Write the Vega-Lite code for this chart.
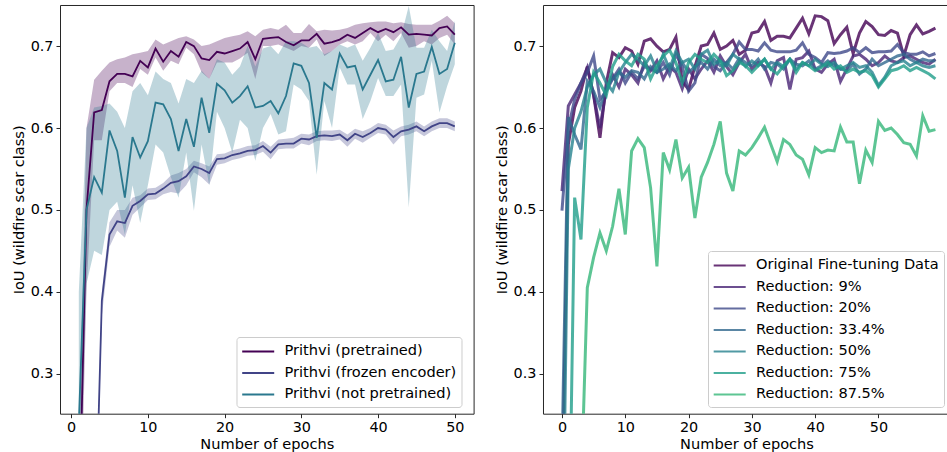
{
"$schema": "https://vega.github.io/schema/vega-lite/v6.json",
"padding": {"left": 10, "top": 4, "right": 0, "bottom": 0},
"spacing": 69,
"bounds": "flush",
"config": {
  "font": "DejaVu Sans",
  "view": {"stroke": "#262626", "strokeWidth": 1},
  "axis": {"grid": false, "domain": false, "labelFont": "DejaVu Sans", "titleFont": "DejaVu Sans", "labelFontSize": 14.4, "titleFontSize": 14.6, "titleFontWeight": "normal", "labelColor": "#000", "titleColor": "#000", "tickColor": "#262626", "tickSize": 4, "labelPadding": 3},
  "axisY": {"titlePadding": 4},
  "axisX": {"titlePadding": 2},
  "legend": {"labelFont": "DejaVu Sans", "labelFontSize": 14.6, "labelColor": "#000", "labelLimit": 400, "fillColor": "rgba(255,255,255,0.8)", "strokeColor": "#cccccc", "cornerRadius": 3, "padding": 5, "symbolType": "M-1.1,0H2.9", "symbolSize": 256, "symbolStrokeWidth": 2.2, "labelOffset": 24, "rowPadding": 4.5}
},
"resolve": {"scale": {"x": "independent", "y": "independent", "stroke": "independent"}, "legend": {"stroke": "independent"}},
"hconcat": [
{
  "width": 413.6,
  "height": 408.7,
  "data": {"values": [
{"m":"Prithvi (pretrained)","e":1,"v":0.10,"lo":0.02,"hi":0.20},
{"m":"Prithvi (pretrained)","e":2,"v":0.50,"lo":0.40,"hi":0.60},
{"m":"Prithvi (pretrained)","e":3,"v":0.619,"lo":0.585,"hi":0.659},
{"m":"Prithvi (pretrained)","e":4,"v":0.622,"lo":0.585,"hi":0.670},
{"m":"Prithvi (pretrained)","e":5,"v":0.657,"lo":0.645,"hi":0.680},
{"m":"Prithvi (pretrained)","e":6,"v":0.666,"lo":0.655,"hi":0.684},
{"m":"Prithvi (pretrained)","e":7,"v":0.666,"lo":0.655,"hi":0.686},
{"m":"Prithvi (pretrained)","e":8,"v":0.663,"lo":0.650,"hi":0.690},
{"m":"Prithvi (pretrained)","e":9,"v":0.682,"lo":0.672,"hi":0.692},
{"m":"Prithvi (pretrained)","e":10,"v":0.674,"lo":0.665,"hi":0.694},
{"m":"Prithvi (pretrained)","e":11,"v":0.697,"lo":0.686,"hi":0.708},
{"m":"Prithvi (pretrained)","e":12,"v":0.681,"lo":0.670,"hi":0.702},
{"m":"Prithvi (pretrained)","e":13,"v":0.694,"lo":0.682,"hi":0.706},
{"m":"Prithvi (pretrained)","e":14,"v":0.687,"lo":0.678,"hi":0.710},
{"m":"Prithvi (pretrained)","e":15,"v":0.705,"lo":0.698,"hi":0.712},
{"m":"Prithvi (pretrained)","e":16,"v":0.700,"lo":0.690,"hi":0.708},
{"m":"Prithvi (pretrained)","e":17,"v":0.685,"lo":0.668,"hi":0.700},
{"m":"Prithvi (pretrained)","e":18,"v":0.683,"lo":0.660,"hi":0.702},
{"m":"Prithvi (pretrained)","e":19,"v":0.693,"lo":0.680,"hi":0.706},
{"m":"Prithvi (pretrained)","e":20,"v":0.691,"lo":0.680,"hi":0.710},
{"m":"Prithvi (pretrained)","e":21,"v":0.694,"lo":0.680,"hi":0.712},
{"m":"Prithvi (pretrained)","e":22,"v":0.697,"lo":0.685,"hi":0.714},
{"m":"Prithvi (pretrained)","e":23,"v":0.705,"lo":0.692,"hi":0.718},
{"m":"Prithvi (pretrained)","e":24,"v":0.684,"lo":0.660,"hi":0.712},
{"m":"Prithvi (pretrained)","e":25,"v":0.709,"lo":0.700,"hi":0.720},
{"m":"Prithvi (pretrained)","e":26,"v":0.710,"lo":0.700,"hi":0.722},
{"m":"Prithvi (pretrained)","e":27,"v":0.711,"lo":0.702,"hi":0.720},
{"m":"Prithvi (pretrained)","e":28,"v":0.705,"lo":0.698,"hi":0.726},
{"m":"Prithvi (pretrained)","e":29,"v":0.701,"lo":0.694,"hi":0.716},
{"m":"Prithvi (pretrained)","e":30,"v":0.707,"lo":0.700,"hi":0.716},
{"m":"Prithvi (pretrained)","e":31,"v":0.707,"lo":0.698,"hi":0.727},
{"m":"Prithvi (pretrained)","e":32,"v":0.715,"lo":0.708,"hi":0.718},
{"m":"Prithvi (pretrained)","e":33,"v":0.703,"lo":0.688,"hi":0.720},
{"m":"Prithvi (pretrained)","e":34,"v":0.705,"lo":0.694,"hi":0.719},
{"m":"Prithvi (pretrained)","e":35,"v":0.708,"lo":0.702,"hi":0.720},
{"m":"Prithvi (pretrained)","e":36,"v":0.714,"lo":0.706,"hi":0.722},
{"m":"Prithvi (pretrained)","e":37,"v":0.710,"lo":0.702,"hi":0.726},
{"m":"Prithvi (pretrained)","e":38,"v":0.716,"lo":0.706,"hi":0.728},
{"m":"Prithvi (pretrained)","e":39,"v":0.722,"lo":0.716,"hi":0.729},
{"m":"Prithvi (pretrained)","e":40,"v":0.717,"lo":0.706,"hi":0.730},
{"m":"Prithvi (pretrained)","e":41,"v":0.721,"lo":0.714,"hi":0.730},
{"m":"Prithvi (pretrained)","e":42,"v":0.717,"lo":0.706,"hi":0.728},
{"m":"Prithvi (pretrained)","e":43,"v":0.723,"lo":0.716,"hi":0.729},
{"m":"Prithvi (pretrained)","e":44,"v":0.714,"lo":0.698,"hi":0.727},
{"m":"Prithvi (pretrained)","e":45,"v":0.715,"lo":0.700,"hi":0.726},
{"m":"Prithvi (pretrained)","e":46,"v":0.714,"lo":0.706,"hi":0.726},
{"m":"Prithvi (pretrained)","e":47,"v":0.713,"lo":0.702,"hi":0.726},
{"m":"Prithvi (pretrained)","e":48,"v":0.722,"lo":0.710,"hi":0.731},
{"m":"Prithvi (pretrained)","e":49,"v":0.724,"lo":0.714,"hi":0.737},
{"m":"Prithvi (pretrained)","e":50,"v":0.714,"lo":0.702,"hi":0.728},
{"m":"Prithvi (frozen encoder)","e":1,"v":0.02,"lo":0.0,"hi":0.04},
{"m":"Prithvi (frozen encoder)","e":2,"v":0.03,"lo":0.01,"hi":0.05},
{"m":"Prithvi (frozen encoder)","e":3,"v":0.05,"lo":0.03,"hi":0.07},
{"m":"Prithvi (frozen encoder)","e":4,"v":0.389,"lo":0.37,"hi":0.40},
{"m":"Prithvi (frozen encoder)","e":5,"v":0.470,"lo":0.455,"hi":0.485},
{"m":"Prithvi (frozen encoder)","e":6,"v":0.486,"lo":0.475,"hi":0.500},
{"m":"Prithvi (frozen encoder)","e":7,"v":0.484,"lo":0.466,"hi":0.500},
{"m":"Prithvi (frozen encoder)","e":8,"v":0.505,"lo":0.494,"hi":0.515},
{"m":"Prithvi (frozen encoder)","e":9,"v":0.511,"lo":0.503,"hi":0.518},
{"m":"Prithvi (frozen encoder)","e":10,"v":0.519,"lo":0.512,"hi":0.526},
{"m":"Prithvi (frozen encoder)","e":11,"v":0.520,"lo":0.513,"hi":0.527},
{"m":"Prithvi (frozen encoder)","e":12,"v":0.526,"lo":0.519,"hi":0.533},
{"m":"Prithvi (frozen encoder)","e":13,"v":0.533,"lo":0.522,"hi":0.542},
{"m":"Prithvi (frozen encoder)","e":14,"v":0.535,"lo":0.520,"hi":0.545},
{"m":"Prithvi (frozen encoder)","e":15,"v":0.541,"lo":0.530,"hi":0.550},
{"m":"Prithvi (frozen encoder)","e":16,"v":0.553,"lo":0.546,"hi":0.560},
{"m":"Prithvi (frozen encoder)","e":17,"v":0.550,"lo":0.540,"hi":0.557},
{"m":"Prithvi (frozen encoder)","e":18,"v":0.545,"lo":0.531,"hi":0.553},
{"m":"Prithvi (frozen encoder)","e":19,"v":0.562,"lo":0.555,"hi":0.568},
{"m":"Prithvi (frozen encoder)","e":20,"v":0.563,"lo":0.557,"hi":0.569},
{"m":"Prithvi (frozen encoder)","e":21,"v":0.567,"lo":0.561,"hi":0.573},
{"m":"Prithvi (frozen encoder)","e":22,"v":0.569,"lo":0.563,"hi":0.575},
{"m":"Prithvi (frozen encoder)","e":23,"v":0.572,"lo":0.566,"hi":0.578},
{"m":"Prithvi (frozen encoder)","e":24,"v":0.573,"lo":0.567,"hi":0.579},
{"m":"Prithvi (frozen encoder)","e":25,"v":0.578,"lo":0.571,"hi":0.584},
{"m":"Prithvi (frozen encoder)","e":26,"v":0.570,"lo":0.562,"hi":0.577},
{"m":"Prithvi (frozen encoder)","e":27,"v":0.580,"lo":0.574,"hi":0.586},
{"m":"Prithvi (frozen encoder)","e":28,"v":0.581,"lo":0.575,"hi":0.587},
{"m":"Prithvi (frozen encoder)","e":29,"v":0.581,"lo":0.575,"hi":0.588},
{"m":"Prithvi (frozen encoder)","e":30,"v":0.587,"lo":0.581,"hi":0.593},
{"m":"Prithvi (frozen encoder)","e":31,"v":0.586,"lo":0.579,"hi":0.592},
{"m":"Prithvi (frozen encoder)","e":32,"v":0.590,"lo":0.584,"hi":0.596},
{"m":"Prithvi (frozen encoder)","e":33,"v":0.591,"lo":0.585,"hi":0.597},
{"m":"Prithvi (frozen encoder)","e":34,"v":0.590,"lo":0.584,"hi":0.597},
{"m":"Prithvi (frozen encoder)","e":35,"v":0.592,"lo":0.586,"hi":0.598},
{"m":"Prithvi (frozen encoder)","e":36,"v":0.585,"lo":0.577,"hi":0.592},
{"m":"Prithvi (frozen encoder)","e":37,"v":0.593,"lo":0.587,"hi":0.599},
{"m":"Prithvi (frozen encoder)","e":38,"v":0.589,"lo":0.582,"hi":0.596},
{"m":"Prithvi (frozen encoder)","e":39,"v":0.594,"lo":0.588,"hi":0.600},
{"m":"Prithvi (frozen encoder)","e":40,"v":0.600,"lo":0.594,"hi":0.606},
{"m":"Prithvi (frozen encoder)","e":41,"v":0.598,"lo":0.592,"hi":0.604},
{"m":"Prithvi (frozen encoder)","e":42,"v":0.589,"lo":0.580,"hi":0.597},
{"m":"Prithvi (frozen encoder)","e":43,"v":0.596,"lo":0.590,"hi":0.602},
{"m":"Prithvi (frozen encoder)","e":44,"v":0.598,"lo":0.592,"hi":0.604},
{"m":"Prithvi (frozen encoder)","e":45,"v":0.602,"lo":0.596,"hi":0.608},
{"m":"Prithvi (frozen encoder)","e":46,"v":0.596,"lo":0.590,"hi":0.602},
{"m":"Prithvi (frozen encoder)","e":47,"v":0.602,"lo":0.596,"hi":0.608},
{"m":"Prithvi (frozen encoder)","e":48,"v":0.606,"lo":0.600,"hi":0.612},
{"m":"Prithvi (frozen encoder)","e":49,"v":0.606,"lo":0.600,"hi":0.612},
{"m":"Prithvi (frozen encoder)","e":50,"v":0.602,"lo":0.596,"hi":0.608},
{"m":"Prithvi (not pretrained)","e":1,"v":0.24,"lo":0.10,"hi":0.40},
{"m":"Prithvi (not pretrained)","e":2,"v":0.50,"lo":0.41,"hi":0.60},
{"m":"Prithvi (not pretrained)","e":3,"v":0.540,"lo":0.45,"hi":0.625},
{"m":"Prithvi (not pretrained)","e":4,"v":0.521,"lo":0.445,"hi":0.627},
{"m":"Prithvi (not pretrained)","e":5,"v":0.597,"lo":0.50,"hi":0.630},
{"m":"Prithvi (not pretrained)","e":6,"v":0.572,"lo":0.51,"hi":0.620},
{"m":"Prithvi (not pretrained)","e":7,"v":0.515,"lo":0.47,"hi":0.600},
{"m":"Prithvi (not pretrained)","e":8,"v":0.589,"lo":0.53,"hi":0.645},
{"m":"Prithvi (not pretrained)","e":9,"v":0.564,"lo":0.484,"hi":0.655},
{"m":"Prithvi (not pretrained)","e":10,"v":0.584,"lo":0.53,"hi":0.640},
{"m":"Prithvi (not pretrained)","e":11,"v":0.631,"lo":0.58,"hi":0.669},
{"m":"Prithvi (not pretrained)","e":12,"v":0.629,"lo":0.57,"hi":0.660},
{"m":"Prithvi (not pretrained)","e":13,"v":0.611,"lo":0.54,"hi":0.655},
{"m":"Prithvi (not pretrained)","e":14,"v":0.572,"lo":0.515,"hi":0.630},
{"m":"Prithvi (not pretrained)","e":15,"v":0.611,"lo":0.57,"hi":0.660},
{"m":"Prithvi (not pretrained)","e":16,"v":0.577,"lo":0.499,"hi":0.655},
{"m":"Prithvi (not pretrained)","e":17,"v":0.637,"lo":0.58,"hi":0.670},
{"m":"Prithvi (not pretrained)","e":18,"v":0.594,"lo":0.53,"hi":0.660},
{"m":"Prithvi (not pretrained)","e":19,"v":0.654,"lo":0.62,"hi":0.684},
{"m":"Prithvi (not pretrained)","e":20,"v":0.646,"lo":0.60,"hi":0.680},
{"m":"Prithvi (not pretrained)","e":21,"v":0.631,"lo":0.57,"hi":0.665},
{"m":"Prithvi (not pretrained)","e":22,"v":0.639,"lo":0.61,"hi":0.675},
{"m":"Prithvi (not pretrained)","e":23,"v":0.651,"lo":0.60,"hi":0.700},
{"m":"Prithvi (not pretrained)","e":24,"v":0.625,"lo":0.56,"hi":0.675},
{"m":"Prithvi (not pretrained)","e":25,"v":0.627,"lo":0.60,"hi":0.697},
{"m":"Prithvi (not pretrained)","e":26,"v":0.633,"lo":0.617,"hi":0.700},
{"m":"Prithvi (not pretrained)","e":27,"v":0.618,"lo":0.592,"hi":0.690},
{"m":"Prithvi (not pretrained)","e":28,"v":0.639,"lo":0.596,"hi":0.706},
{"m":"Prithvi (not pretrained)","e":29,"v":0.679,"lo":0.653,"hi":0.706},
{"m":"Prithvi (not pretrained)","e":30,"v":0.676,"lo":0.647,"hi":0.704},
{"m":"Prithvi (not pretrained)","e":31,"v":0.655,"lo":0.633,"hi":0.698},
{"m":"Prithvi (not pretrained)","e":32,"v":0.588,"lo":0.543,"hi":0.700},
{"m":"Prithvi (not pretrained)","e":33,"v":0.655,"lo":0.633,"hi":0.690},
{"m":"Prithvi (not pretrained)","e":34,"v":0.647,"lo":0.600,"hi":0.694},
{"m":"Prithvi (not pretrained)","e":35,"v":0.691,"lo":0.674,"hi":0.702},
{"m":"Prithvi (not pretrained)","e":36,"v":0.674,"lo":0.653,"hi":0.698},
{"m":"Prithvi (not pretrained)","e":37,"v":0.676,"lo":0.653,"hi":0.702},
{"m":"Prithvi (not pretrained)","e":38,"v":0.647,"lo":0.611,"hi":0.682},
{"m":"Prithvi (not pretrained)","e":39,"v":0.665,"lo":0.633,"hi":0.698},
{"m":"Prithvi (not pretrained)","e":40,"v":0.683,"lo":0.661,"hi":0.716},
{"m":"Prithvi (not pretrained)","e":41,"v":0.657,"lo":0.639,"hi":0.694},
{"m":"Prithvi (not pretrained)","e":42,"v":0.659,"lo":0.639,"hi":0.696},
{"m":"Prithvi (not pretrained)","e":43,"v":0.687,"lo":0.653,"hi":0.712},
{"m":"Prithvi (not pretrained)","e":44,"v":0.625,"lo":0.503,"hi":0.749},
{"m":"Prithvi (not pretrained)","e":45,"v":0.666,"lo":0.637,"hi":0.698},
{"m":"Prithvi (not pretrained)","e":46,"v":0.669,"lo":0.641,"hi":0.698},
{"m":"Prithvi (not pretrained)","e":47,"v":0.699,"lo":0.682,"hi":0.720},
{"m":"Prithvi (not pretrained)","e":48,"v":0.666,"lo":0.619,"hi":0.706},
{"m":"Prithvi (not pretrained)","e":49,"v":0.672,"lo":0.651,"hi":0.694},
{"m":"Prithvi (not pretrained)","e":50,"v":0.704,"lo":0.678,"hi":0.731}
  ]},
  "encoding": {
    "x": {"field": "e", "type": "quantitative", "scale": {"domain": [-1.45, 52.45], "nice": false, "zero": false}, "axis": {"values": [0,10,20,30,40,50], "title": "Number of epochs"}}
  },
  "layer": [
    {
      "transform": [{"filter": "datum.m == 'Prithvi (pretrained)'"}],
      "mark": {"type": "area", "color": "#440154", "fillOpacity": 0.3, "clip": true},
      "encoding": {
        "y": {"field": "lo", "type": "quantitative", "scale": {"domain": [0.2512, 0.7502], "nice": false, "zero": false}, "axis": {"values": [0.3,0.4,0.5,0.6,0.7], "format": ".1f", "title": "IoU (wildfire scar class)"}},
        "y2": {"field": "hi"}
      }
    },
    {
      "transform": [{"filter": "datum.m == 'Prithvi (frozen encoder)'"}],
      "mark": {"type": "area", "color": "#414487", "fillOpacity": 0.3, "clip": true},
      "encoding": {
        "y": {"field": "lo", "type": "quantitative", "axis": {"values": [0.3,0.4,0.5,0.6,0.7], "format": ".1f", "title": "IoU (wildfire scar class)"}},
        "y2": {"field": "hi"}
      }
    },
    {
      "transform": [{"filter": "datum.m == 'Prithvi (not pretrained)'"}],
      "mark": {"type": "area", "color": "#2a788e", "fillOpacity": 0.3, "clip": true},
      "encoding": {
        "y": {"field": "lo", "type": "quantitative", "axis": {"values": [0.3,0.4,0.5,0.6,0.7], "format": ".1f", "title": "IoU (wildfire scar class)"}},
        "y2": {"field": "hi"}
      }
    },
    {
      "mark": {"type": "line", "strokeWidth": 1.8, "clip": true},
      "encoding": {
        "y": {"field": "v", "type": "quantitative", "axis": {"values": [0.3,0.4,0.5,0.6,0.7], "format": ".1f", "title": "IoU (wildfire scar class)"}},
        "stroke": {"field": "m", "type": "nominal", "scale": {"domain": ["Prithvi (pretrained)", "Prithvi (frozen encoder)", "Prithvi (not pretrained)"], "range": ["#440154", "#414487", "#2a788e"]}, "legend": {"orient": "none", "legendX": 176.5, "legendY": 332, "title": null}}
      }
    }
  ]
},
{
  "width": 407,
  "height": 408.7,
  "view": {"stroke": null},
  "data": {"values": [
{"e":0,"O":0.13,"R9":0.523,"R20":0.499,"R33":0.20,"R50":0.0,"R75":0.0,"R87":0.02},
{"e":1,"O":0.58,"R9":0.627,"R20":0.600,"R33":0.613,"R50":0.55,"R75":0.02,"R87":0.05},
{"e":2,"O":0.625,"R9":0.641,"R20":0.635,"R33":0.592,"R50":0.60,"R75":0.515,"R87":0.10},
{"e":3,"O":0.645,"R9":0.655,"R20":0.655,"R33":0.574,"R50":0.62,"R75":0.464,"R87":0.15},
{"e":4,"O":0.675,"R9":0.674,"R20":0.668,"R33":0.657,"R50":0.65,"R75":0.625,"R87":0.405},
{"e":5,"O":0.640,"R9":0.640,"R20":0.688,"R33":0.645,"R50":0.665,"R75":0.668,"R87":0.442},
{"e":6,"O":0.588,"R9":0.600,"R20":0.635,"R33":0.625,"R50":0.672,"R75":0.655,"R87":0.472},
{"e":7,"O":0.655,"R9":0.648,"R20":0.645,"R33":0.650,"R50":0.655,"R75":0.640,"R87":0.450},
{"e":8,"O":0.692,"R9":0.665,"R20":0.660,"R33":0.660,"R50":0.645,"R75":0.675,"R87":0.480},
{"e":9,"O":0.686,"R9":0.650,"R20":0.672,"R33":0.668,"R50":0.668,"R75":0.690,"R87":0.526},
{"e":10,"O":0.698,"R9":0.672,"R20":0.655,"R33":0.662,"R50":0.680,"R75":0.682,"R87":0.470},
{"e":11,"O":0.694,"R9":0.665,"R20":0.668,"R33":0.670,"R50":0.690,"R75":0.676,"R87":0.572},
{"e":12,"O":0.678,"R9":0.655,"R20":0.660,"R33":0.668,"R50":0.684,"R75":0.690,"R87":0.587},
{"e":13,"O":0.706,"R9":0.680,"R20":0.675,"R33":0.660,"R50":0.676,"R75":0.684,"R87":0.576},
{"e":14,"O":0.709,"R9":0.670,"R20":0.672,"R33":0.675,"R50":0.688,"R75":0.660,"R87":0.527},
{"e":15,"O":0.700,"R9":0.682,"R20":0.668,"R33":0.668,"R50":0.670,"R75":0.676,"R87":0.431},
{"e":16,"O":0.693,"R9":0.660,"R20":0.680,"R33":0.672,"R50":0.690,"R75":0.688,"R87":0.570},
{"e":17,"O":0.696,"R9":0.675,"R20":0.665,"R33":0.678,"R50":0.672,"R75":0.695,"R87":0.549},
{"e":18,"O":0.711,"R9":0.668,"R20":0.690,"R33":0.670,"R50":0.694,"R75":0.680,"R87":0.586},
{"e":19,"O":0.657,"R9":0.648,"R20":0.675,"R33":0.680,"R50":0.680,"R75":0.655,"R87":0.539},
{"e":20,"O":0.647,"R9":0.672,"R20":0.645,"R33":0.668,"R50":0.684,"R75":0.680,"R87":0.552},
{"e":21,"O":0.675,"R9":0.660,"R20":0.655,"R33":0.675,"R50":0.672,"R75":0.690,"R87":0.490},
{"e":22,"O":0.700,"R9":0.672,"R20":0.690,"R33":0.680,"R50":0.690,"R75":0.684,"R87":0.540},
{"e":23,"O":0.702,"R9":0.682,"R20":0.685,"R33":0.672,"R50":0.695,"R75":0.680,"R87":0.558},
{"e":24,"O":0.716,"R9":0.668,"R20":0.675,"R33":0.684,"R50":0.678,"R75":0.690,"R87":0.580},
{"e":25,"O":0.696,"R9":0.688,"R20":0.670,"R33":0.676,"R50":0.682,"R75":0.682,"R87":0.608},
{"e":26,"O":0.700,"R9":0.675,"R20":0.680,"R33":0.680,"R50":0.676,"R75":0.664,"R87":0.545},
{"e":27,"O":0.707,"R9":0.665,"R20":0.690,"R33":0.672,"R50":0.690,"R75":0.670,"R87":0.523},
{"e":28,"O":0.690,"R9":0.680,"R20":0.705,"R33":0.685,"R50":0.684,"R75":0.680,"R87":0.572},
{"e":29,"O":0.695,"R9":0.690,"R20":0.696,"R33":0.680,"R50":0.675,"R75":0.676,"R87":0.567},
{"e":30,"O":0.716,"R9":0.672,"R20":0.696,"R33":0.676,"R50":0.682,"R75":0.668,"R87":0.576},
{"e":31,"O":0.718,"R9":0.680,"R20":0.694,"R33":0.684,"R50":0.676,"R75":0.676,"R87":0.588},
{"e":32,"O":0.730,"R9":0.675,"R20":0.704,"R33":0.672,"R50":0.684,"R75":0.684,"R87":0.601},
{"e":33,"O":0.707,"R9":0.655,"R20":0.695,"R33":0.680,"R50":0.672,"R75":0.672,"R87":0.580},
{"e":34,"O":0.712,"R9":0.682,"R20":0.693,"R33":0.678,"R50":0.680,"R75":0.666,"R87":0.559},
{"e":35,"O":0.712,"R9":0.686,"R20":0.693,"R33":0.672,"R50":0.675,"R75":0.676,"R87":0.586},
{"e":36,"O":0.710,"R9":0.647,"R20":0.693,"R33":0.684,"R50":0.684,"R75":0.684,"R87":0.580},
{"e":37,"O":0.722,"R9":0.684,"R20":0.695,"R33":0.678,"R50":0.672,"R75":0.668,"R87":0.567},
{"e":38,"O":0.734,"R9":0.686,"R20":0.704,"R33":0.676,"R50":0.680,"R75":0.680,"R87":0.562},
{"e":39,"O":0.715,"R9":0.694,"R20":0.690,"R33":0.682,"R50":0.676,"R75":0.676,"R87":0.543},
{"e":40,"O":0.737,"R9":0.672,"R20":0.686,"R33":0.672,"R50":0.684,"R75":0.670,"R87":0.576},
{"e":41,"O":0.736,"R9":0.668,"R20":0.680,"R33":0.676,"R50":0.678,"R75":0.674,"R87":0.570},
{"e":42,"O":0.731,"R9":0.678,"R20":0.692,"R33":0.682,"R50":0.675,"R75":0.680,"R87":0.573},
{"e":43,"O":0.703,"R9":0.684,"R20":0.691,"R33":0.676,"R50":0.680,"R75":0.672,"R87":0.572},
{"e":44,"O":0.714,"R9":0.657,"R20":0.692,"R33":0.672,"R50":0.672,"R75":0.676,"R87":0.601},
{"e":45,"O":0.723,"R9":0.672,"R20":0.694,"R33":0.670,"R50":0.676,"R75":0.668,"R87":0.583},
{"e":46,"O":0.691,"R9":0.688,"R20":0.698,"R33":0.678,"R50":0.680,"R75":0.672,"R87":0.583},
{"e":47,"O":0.716,"R9":0.690,"R20":0.692,"R33":0.666,"R50":0.674,"R75":0.668,"R87":0.532},
{"e":48,"O":0.730,"R9":0.684,"R20":0.698,"R33":0.672,"R50":0.676,"R75":0.670,"R87":0.573},
{"e":49,"O":0.724,"R9":0.676,"R20":0.692,"R33":0.684,"R50":0.668,"R75":0.664,"R87":0.558},
{"e":50,"O":0.714,"R9":0.680,"R20":0.693,"R33":0.676,"R50":0.652,"R75":0.650,"R87":0.608},
{"e":51,"O":0.713,"R9":0.688,"R20":0.693,"R33":0.680,"R50":0.662,"R75":0.660,"R87":0.597},
{"e":52,"O":0.719,"R9":0.682,"R20":0.694,"R33":0.684,"R50":0.676,"R75":0.670,"R87":0.600},
{"e":53,"O":0.716,"R9":0.680,"R20":0.702,"R33":0.688,"R50":0.680,"R75":0.672,"R87":0.592},
{"e":54,"O":0.688,"R9":0.686,"R20":0.692,"R33":0.690,"R50":0.682,"R75":0.676,"R87":0.582},
{"e":55,"O":0.714,"R9":0.688,"R20":0.690,"R33":0.684,"R50":0.676,"R75":0.670,"R87":0.580},
{"e":56,"O":0.726,"R9":0.684,"R20":0.690,"R33":0.680,"R50":0.680,"R75":0.674,"R87":0.566},
{"e":57,"O":0.715,"R9":0.680,"R20":0.693,"R33":0.684,"R50":0.676,"R75":0.670,"R87":0.615},
{"e":58,"O":0.718,"R9":0.678,"R20":0.688,"R33":0.682,"R50":0.674,"R75":0.666,"R87":0.596},
{"e":59,"O":0.722,"R9":0.684,"R20":0.691,"R33":0.682,"R50":0.676,"R75":0.660,"R87":0.598}
  ]},
  "transform": [{"fold": ["O","R9","R20","R33","R50","R75","R87"], "as": ["s","v"]}],
  "layer": [
    {
      "mark": {"type": "line", "strokeWidth": 3, "opacity": 0.8, "clip": true},
      "encoding": {
        "x": {"field": "e", "type": "quantitative", "scale": {"domain": [-3, 61.3], "nice": false, "zero": false}, "axis": {"values": [0,10,20,30,40,50], "title": "Number of epochs", "domain": true, "domainColor": "#262626"}},
        "y": {"field": "v", "type": "quantitative", "scale": {"domain": [0.2512, 0.7502], "nice": false, "zero": false}, "axis": {"values": [0.3,0.4,0.5,0.6,0.7], "format": ".1f", "title": "IoU (wildfire scar class)", "domain": true, "domainColor": "#262626"}},
        "stroke": {"field": "s", "type": "nominal", "scale": {"domain": ["O","R9","R20","R33","R50","R75","R87"], "range": ["#440154","#482475","#3e4989","#31688e","#26828e","#1f9e89","#35b779"]}, "legend": {"orient": "none", "legendX": 165, "legendY": 246, "title": null, "labelExpr": "datum.label == 'O' ? 'Original Fine-tuning Data' : datum.label == 'R9' ? 'Reduction: 9%' : datum.label == 'R20' ? 'Reduction: 20%' : datum.label == 'R33' ? 'Reduction: 33.4%' : datum.label == 'R50' ? 'Reduction: 50%' : datum.label == 'R75' ? 'Reduction: 75%' : 'Reduction: 87.5%'"}}
      }
    },
    {
      "mark": {"type": "line", "opacity": 0},
      "encoding": {
        "x": {"field": "e", "type": "quantitative", "axis": {"orient": "top", "labels": false, "ticks": false, "domain": true, "domainColor": "#262626", "title": null}},
        "y": {"field": "v", "type": "quantitative", "axis": {"values": [0.3,0.4,0.5,0.6,0.7], "format": ".1f", "title": "IoU (wildfire scar class)", "domain": true, "domainColor": "#262626"}}
      }
    }
  ],
  "resolve": {"axis": {"x": "independent"}}
}
]
}
